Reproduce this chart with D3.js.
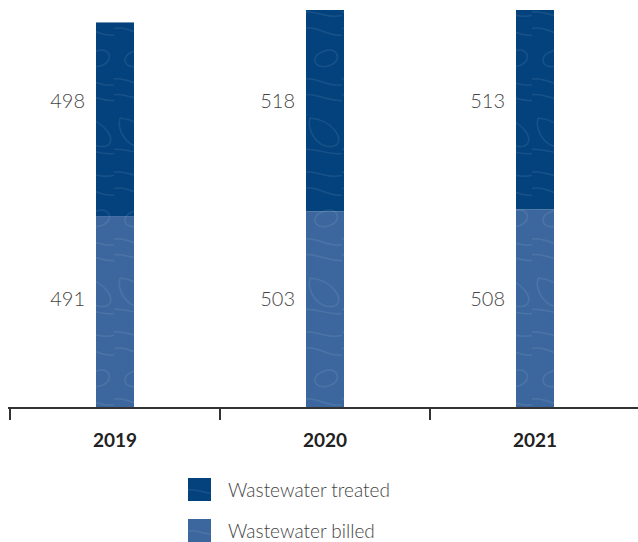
<!DOCTYPE html>
<meta charset="utf-8">
<style>
  body { margin: 0; background: #fff; }
  svg { display: block; font-family: Lato, "Open Sans", sans-serif; }
  .val { font-size: 20px; font-weight: 300; fill: #444; }
  .year { font-size: 19px; font-weight: 700; fill: #222; }
  .legend text { font-size: 19px; font-weight: 300; fill: #444; }
</style>
<svg width="638" height="542"></svg>
<script src="https://cdnjs.cloudflare.com/ajax/libs/d3/7.8.5/d3.min.js"></script>
<script>
  var years = ["2019", "2020", "2021"];
  var billed = [491, 503, 508];
  var treated = [498, 518, 513];
  var seriesNames = ["Wastewater treated", "Wastewater billed"];

  var colors = { billed: "#3c679e", treated: "#03427d" };

  var svg = d3.select("svg");
  var baseY = 407;

  var x = d3.scaleBand().domain(years).range([10, 640]).padding(0);
  var y = d3.scaleLinear().domain([0, 1021]).range([baseY, 10]);
  var barW = 38;

  // contour-like texture patterns
  var defs = svg.append("defs");
  function pattern(id, fill) {
    var p = defs.append("pattern").attr("id", id)
      .attr("patternUnits", "userSpaceOnUse")
      .attr("width", 38).attr("height", 160);
    p.append("rect").attr("width", 38).attr("height", 160).attr("fill", fill);
    var lines = [
      "M-5,14 C10,6 26,24 45,12",
      "M-5,30 C14,22 22,40 45,34",
      "M18,52 C34,44 40,62 24,66 C10,70 6,56 18,52",
      "M-5,80 C12,74 28,92 45,82",
      "M-5,96 C10,90 26,104 45,100",
      "M6,118 C2,130 14,150 30,146 C42,142 30,120 6,118",
      "M-5,150 C12,146 26,158 45,152"
    ];
    p.selectAll("path").data(lines).enter().append("path")
      .attr("d", function(d) { return d; })
      .attr("fill", "none")
      .attr("stroke", "#ffffff")
      .attr("stroke-opacity", 0.08)
      .attr("stroke-width", 1.5);
  }
  pattern("texTreated", colors.treated);
  pattern("texBilled", colors.billed);

  var data = years.map(function(yr, i) {
    return { year: yr, billed: billed[i], treated: treated[i] };
  });

  function barX(d) { return x(d.year) + x.bandwidth() / 2 - barW / 2; }

  // billed (bottom)
  svg.selectAll(".billed").data(data).enter().append("rect")
    .attr("class", "billed")
    .attr("x", barX)
    .attr("width", barW)
    .attr("y", function(d) { return y(d.billed); })
    .attr("height", function(d) { return baseY - y(d.billed); })
    .attr("fill", "url(#texBilled)");

  // treated (top)
  svg.selectAll(".treated").data(data).enter().append("rect")
    .attr("class", "treated")
    .attr("x", barX)
    .attr("width", barW)
    .attr("y", function(d) { return y(d.billed + d.treated); })
    .attr("height", function(d) { return y(d.billed) - y(d.billed + d.treated); })
    .attr("fill", "url(#texTreated)");

  // value labels, to the left of each bar
  svg.selectAll(".valT").data(data).enter().append("text")
    .attr("class", "val")
    .attr("x", function(d) { return barX(d) - 11; })
    .attr("y", 101)
    .attr("dy", "0.35em")
    .attr("text-anchor", "end")
    .text(function(d) { return d.treated; });

  svg.selectAll(".valB").data(data).enter().append("text")
    .attr("class", "val")
    .attr("x", function(d) { return barX(d) - 11; })
    .attr("y", 299)
    .attr("dy", "0.35em")
    .attr("text-anchor", "end")
    .text(function(d) { return d.billed; });

  // axis
  var axis = svg.append("g").attr("transform", "translate(0," + (baseY + 1) + ")");
  axis.append("line")
    .attr("x1", 8).attr("x2", 638)
    .attr("stroke", "#333").attr("stroke-width", 2);
  axis.selectAll(".tick").data(years).enter().append("line")
    .attr("x1", function(d) { return x(d); })
    .attr("x2", function(d) { return x(d); })
    .attr("y1", 0).attr("y2", 12)
    .attr("stroke", "#333").attr("stroke-width", 2);
  axis.selectAll(".year").data(years).enter().append("text")
    .attr("class", "year")
    .attr("x", function(d) { return x(d) + x.bandwidth() / 2; })
    .attr("y", 32)
    .attr("dy", "0.35em")
    .attr("text-anchor", "middle")
    .text(function(d) { return d; });

  // legend
  var legend = svg.selectAll(".legend").data(seriesNames).enter().append("g")
    .attr("class", "legend")
    .attr("transform", function(d, i) { return "translate(188," + (478 + i * 41) + ")"; });
  legend.append("rect")
    .attr("width", 23).attr("height", 23)
    .attr("fill", function(d, i) { return i === 0 ? "url(#texTreated)" : "url(#texBilled)"; });
  legend.append("text")
    .attr("x", 40).attr("y", 12).attr("dy", "0.35em")
    .text(function(d) { return d; });
</script>
